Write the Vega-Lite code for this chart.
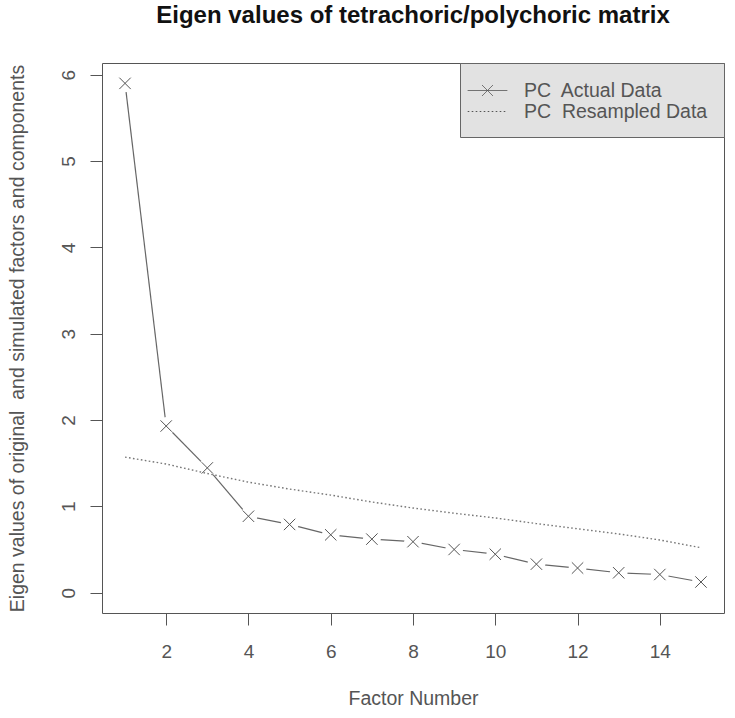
{
  "$schema": "https://vega.github.io/schema/vega-lite/v6.json",
  "width": 622,
  "height": 550,
  "autosize": "none",
  "padding": {"left": 102, "top": 63, "right": 11, "bottom": 105},
  "background": "white",
  "config": {
    "font": "Liberation Sans",
    "view": {"stroke": "#555", "strokeWidth": 1},
    "axis": {
      "domain": false, "grid": false,
      "tickColor": "#555", "tickSize": 12, "tickWidth": 1,
      "labelFont": "Liberation Sans", "labelFontSize": 19, "labelColor": "#555",
      "titleFont": "Liberation Sans", "titleFontSize": 19.5, "titleColor": "#555", "titleFontWeight": "normal"
    }
  },
  "title": {
    "text": "Eigen values of tetrachoric/polychoric matrix",
    "fontSize": 24, "fontWeight": "bold", "color": "#111", "font": "Liberation Sans",
    "anchor": "middle", "baseline": "alphabetic", "offset": 16
  },
  "data": {
    "values": [
      {"factor": 1, "value": 5.9, "series": "PC Actual Data"},
      {"factor": 2, "value": 1.93, "series": "PC Actual Data"},
      {"factor": 3, "value": 1.445, "series": "PC Actual Data"},
      {"factor": 4, "value": 0.885, "series": "PC Actual Data"},
      {"factor": 5, "value": 0.79, "series": "PC Actual Data"},
      {"factor": 6, "value": 0.67, "series": "PC Actual Data"},
      {"factor": 7, "value": 0.62, "series": "PC Actual Data"},
      {"factor": 8, "value": 0.59, "series": "PC Actual Data"},
      {"factor": 9, "value": 0.5, "series": "PC Actual Data"},
      {"factor": 10, "value": 0.445, "series": "PC Actual Data"},
      {"factor": 11, "value": 0.33, "series": "PC Actual Data"},
      {"factor": 12, "value": 0.285, "series": "PC Actual Data"},
      {"factor": 13, "value": 0.23, "series": "PC Actual Data"},
      {"factor": 14, "value": 0.21, "series": "PC Actual Data"},
      {"factor": 15, "value": 0.123, "series": "PC Actual Data"},
      {"factor": 1, "value": 1.57, "series": "PC Resampled Data"},
      {"factor": 2, "value": 1.49, "series": "PC Resampled Data"},
      {"factor": 3, "value": 1.38, "series": "PC Resampled Data"},
      {"factor": 4, "value": 1.28, "series": "PC Resampled Data"},
      {"factor": 5, "value": 1.2, "series": "PC Resampled Data"},
      {"factor": 6, "value": 1.13, "series": "PC Resampled Data"},
      {"factor": 7, "value": 1.05, "series": "PC Resampled Data"},
      {"factor": 8, "value": 0.98, "series": "PC Resampled Data"},
      {"factor": 9, "value": 0.92, "series": "PC Resampled Data"},
      {"factor": 10, "value": 0.865, "series": "PC Resampled Data"},
      {"factor": 11, "value": 0.8, "series": "PC Resampled Data"},
      {"factor": 12, "value": 0.74, "series": "PC Resampled Data"},
      {"factor": 13, "value": 0.68, "series": "PC Resampled Data"},
      {"factor": 14, "value": 0.61, "series": "PC Resampled Data"},
      {"factor": 15, "value": 0.52, "series": "PC Resampled Data"}
    ]
  },
  "encoding": {
    "x": {
      "field": "factor", "type": "quantitative",
      "scale": {"domain": [0.44, 15.56], "nice": false, "zero": false},
      "axis": {"values": [2, 4, 6, 8, 10, 12, 14], "title": "Factor Number", "labelPadding": 17, "titlePadding": 28}
    },
    "y": {
      "field": "value", "type": "quantitative",
      "scale": {"domain": [-0.236, 6.136], "nice": false, "zero": false},
      "axis": {"values": [0, 1, 2, 3, 4, 5, 6], "title": "Eigen values of original\u00a0 and simulated factors and components",
        "labelAngle": 270, "labelAlign": "center", "labelBaseline": "bottom", "labelPadding": 12, "titlePadding": 32}
    }
  },
  "layer": [
    {
      "transform": [
        {"filter": "datum.series == 'PC Actual Data'"},
        {"window": [{"op": "lead", "field": "factor", "as": "f2"}, {"op": "lead", "field": "value", "as": "v2"}], "sort": [{"field": "factor"}]},
        {"filter": "datum.f2 != null"}
      ],
      "mark": {"type": "rule", "color": "#666", "strokeWidth": 1.2},
      "encoding": {
        "x2": {"field": "f2"},
        "y2": {"field": "v2"}
      }
    },
    {
      "transform": [{"filter": "datum.series == 'PC Actual Data'"}],
      "mark": {"type": "circle", "color": "white", "opacity": 1, "size": 320},
      "encoding": {}
    },
    {
      "transform": [{"filter": "datum.series == 'PC Actual Data'"}],
      "mark": {"type": "point", "shape": "M-1,-1L1,1M-1,1L1,-1", "filled": false, "stroke": "#555", "strokeWidth": 1, "opacity": 1, "size": 130},
      "encoding": {}
    },
    {
      "transform": [{"filter": "datum.series == 'PC Resampled Data'"}],
      "mark": {"type": "line", "color": "#777", "strokeWidth": 1.4},
      "encoding": {
        "strokeDash": {
          "field": "series", "type": "nominal",
          "scale": {"domain": ["PC Actual Data", "PC Resampled Data"], "range": [[1, 0], [1.6, 2.4]]},
          "legend": {
            "title": null, "orient": "top-right", "offset": 0,
            "fillColor": "#e2e2e2", "strokeColor": "#666", "padding": 16,
            "labelFont": "Liberation Sans", "labelFontSize": 19.5, "labelColor": "#555", "labelOffset": 25, "labelLimit": 400,
            "symbolSize": 484, "symbolStrokeColor": "#555", "symbolStrokeWidth": 1, "symbolFillColor": "transparent",
            "rowPadding": 0,
            "labelExpr": "datum.label == 'PC Actual Data' ? 'PC\u00a0 Actual Data' : '\u00a0PC\u00a0 Resampled Data'",
            "encode": {
              "symbols": {
                "update": {
                  "shape": {"signal": "datum.value == 'PC Actual Data' ? 'M-1.8,0L1.8,0M-0.5,-0.5L0.5,0.5M-0.5,0.5L0.5,-0.5' : 'M-1.8,0L1.8,0'"}
                }
              }
            }
          }
        }
      }
    }
  ]
}
